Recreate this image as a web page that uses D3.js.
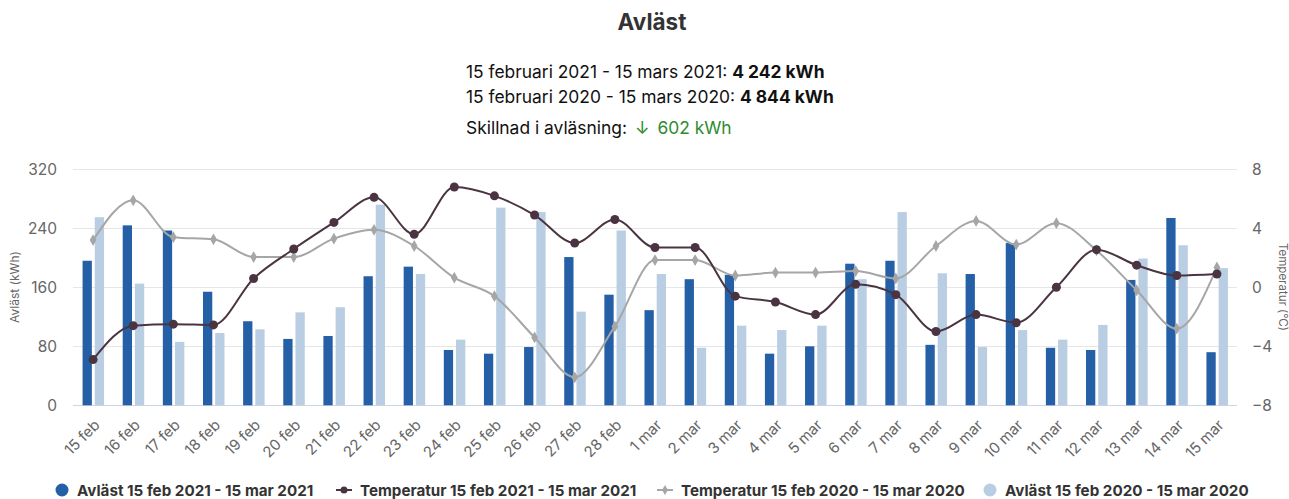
<!DOCTYPE html>
<html>
<head>
<meta charset="utf-8">
<script src="https://cdn.jsdelivr.net/npm/d3@7"></script>
<style>
  body { margin: 0; background: #fff; font-family: Inter, "Noto Sans", sans-serif; }
  svg text { font-family: Inter, "Noto Sans", sans-serif; }
</style>
</head>
<body>
<svg id="chart" width="1289" height="499"></svg>
<script>
var days = ["15 feb","16 feb","17 feb","18 feb","19 feb","20 feb","21 feb","22 feb","23 feb","24 feb",
    "25 feb","26 feb","27 feb","28 feb","1 mar","2 mar","3 mar","4 mar","5 mar","6 mar",
    "7 mar","8 mar","9 mar","10 mar","11 mar","12 mar","13 mar","14 mar","15 mar"];
var read2021 = [196,244,237,154,114,90,94,175,188,75,70,79,201,150,129,171,177,70,80,192,
    196,82,178,220,78,75,170,254,72];
var read2020 = [255,165,86,98,103,126,133,272,178,89,268,262,127,237,178,78,108,102,108,171,
    262,179,79,102,89,109,199,217,186];
var temp2021 = [-4.9,-2.6,-2.5,-2.55,0.6,2.6,4.4,6.1,3.6,6.8,6.2,4.9,3.0,4.6,2.7,2.7,-0.6,-1.0,-1.85,0.2,
    -0.5,-3.0,-1.85,-2.4,0.0,2.55,1.5,0.8,0.9];
var temp2020 = [3.2,5.9,3.4,3.25,2.05,2.05,3.3,3.9,2.8,0.65,-0.6,-3.4,-6.1,-2.65,1.85,1.85,0.8,1.0,1.0,1.1,
    0.6,2.8,4.5,2.9,4.35,2.5,-0.2,-2.8,1.35];
var kwhTicks = [0,80,160,240,320];
var tempTicks = [-8,-4,0,4,8];
var legendNames = ["Avläst 15 feb 2021 - 15 mar 2021","Temperatur 15 feb 2021 - 15 mar 2021",
    "Temperatur 15 feb 2020 - 15 mar 2020","Avläst 15 feb 2020 - 15 mar 2020"];

var col2021 = "#2560a6", col2020 = "#b9cde3", colT21 = "#4a3441", colT20 = "#a6a6a6";

var svg = d3.select("#chart");
var plotL = 73, plotR = 1237, plotT = 169.3, plotB = 405.3;

var x = d3.scaleBand().domain(days).range([plotL, plotR]);
var sub = d3.scaleBand().domain(["a","b"]).range([-10.5, 11]).paddingInner(0.24);
var y = d3.scaleLinear().domain([0, 320]).range([plotB, plotT]);
var yT = d3.scaleLinear().domain([-8, 8]).range([plotB, plotT]);
function cx(d){ return x(d) + x.bandwidth()/2; }

// grid
svg.append("g").selectAll("line").data(kwhTicks.slice(1)).enter().append("line")
    .attr("x1", plotL).attr("x2", plotR)
    .attr("y1", function(d){ return Math.round(y(d)) + 0.5; }).attr("y2", function(d){ return Math.round(y(d)) + 0.5; })
    .attr("stroke", "#e6e6e6").attr("stroke-width", 1);
svg.append("line").attr("x1", plotL).attr("x2", plotR).attr("y1", Math.round(plotB) + 0.5).attr("y2", Math.round(plotB) + 0.5)
    .attr("stroke", "#ccd6eb");

// axes labels
var yAxis = d3.axisLeft(y).tickValues(kwhTicks).tickSize(0).tickPadding(16);
var gy = svg.append("g").attr("transform", "translate(" + plotL + ",0)").call(yAxis);
gy.select(".domain").remove();
gy.selectAll("text").attr("font-size", 15.5).attr("fill", "#666");

var yAxisR = d3.axisRight(yT).tickValues(tempTicks).tickSize(0).tickPadding(15);
var gyr = svg.append("g").attr("transform", "translate(" + plotR + ",0)").call(yAxisR);
gyr.select(".domain").remove();
gyr.selectAll("text").attr("font-size", 15.5).attr("fill", "#666");

var gx = svg.append("g").attr("transform", "translate(0," + plotB + ")")
    .call(d3.axisBottom(x).tickSize(0).tickPadding(0));
gx.select(".domain").remove();
gx.selectAll(".tick text")
    .attr("font-size", 15).attr("fill", "#666")
    .attr("text-anchor", "end")
    .attr("transform", "translate(4,17) rotate(-45)")
    .attr("dy", "0.35em");

svg.append("text").attr("transform", "translate(19,287) rotate(-90)")
    .attr("text-anchor", "middle").attr("font-size", 12).attr("fill", "#666").text("Avläst (kWh)");
svg.append("text").attr("transform", "translate(1279,287) rotate(90)")
    .attr("text-anchor", "middle").attr("font-size", 11.5).attr("fill", "#666").text("Temperatur (°C)");

// bars
var bars = svg.append("g");
bars.selectAll(".b21").data(read2021).enter().append("rect")
    .attr("x", function(d, i){ return cx(days[i]) + sub("a"); })
    .attr("width", sub.bandwidth())
    .attr("y", function(d){ return y(d); })
    .attr("height", function(d){ return plotB - y(d); })
    .attr("fill", col2021);
bars.selectAll(".b20").data(read2020).enter().append("rect")
    .attr("x", function(d, i){ return cx(days[i]) + sub("b"); })
    .attr("width", sub.bandwidth())
    .attr("y", function(d){ return y(d); })
    .attr("height", function(d){ return plotB - y(d); })
    .attr("fill", col2020);

// lines
var line = d3.line()
    .x(function(d, i){ return cx(days[i]); })
    .y(function(d){ return yT(d); })
    .curve(d3.curveMonotoneX);

svg.append("path").datum(temp2020).attr("d", line)
    .attr("fill", "none").attr("stroke", colT20).attr("stroke-width", 2);
svg.append("g").selectAll("path").data(temp2020).enter().append("path")
    .attr("d", d3.symbol().type(d3.symbolDiamond).size(40))
    .attr("transform", function(d, i){ return "translate(" + cx(days[i]) + "," + yT(d) + ")"; })
    .attr("fill", colT20);

svg.append("path").datum(temp2021).attr("d", line)
    .attr("fill", "none").attr("stroke", colT21).attr("stroke-width", 2);
svg.append("g").selectAll("circle").data(temp2021).enter().append("circle")
    .attr("cx", function(d, i){ return cx(days[i]); })
    .attr("cy", function(d){ return yT(d); })
    .attr("r", 4.5)
    .attr("fill", colT21);

// title and summary
svg.append("text").attr("x", 652).attr("y", 30).attr("text-anchor", "middle")
    .attr("font-size", 22.5).attr("font-weight", "bold").attr("fill", "#333").text("Avläst");

var s1 = svg.append("text").attr("x", 466).attr("y", 78).attr("font-size", 17.4).attr("fill", "#111");
s1.append("tspan").text("15 februari 2021 - 15 mars 2021: ");
s1.append("tspan").attr("font-weight", "bold").text("4 242 kWh");
var s2 = svg.append("text").attr("x", 466).attr("y", 103).attr("font-size", 17.4).attr("fill", "#111");
s2.append("tspan").text("15 februari 2020 - 15 mars 2020: ");
s2.append("tspan").attr("font-weight", "bold").text("4 844 kWh");
var s3 = svg.append("text").attr("x", 466).attr("y", 134).attr("font-size", 17.4).attr("fill", "#111");
s3.append("tspan").text("Skillnad i avläsning: ");
s3.append("tspan").attr("fill", "#2e8b2e").attr("dx", 3).text("↓");
s3.append("tspan").attr("fill", "#2e8b2e").attr("dx", 8).text("602 kWh");

// legend
var lx = [62, 344, 665, 990];
var lg = svg.append("g").attr("transform", "translate(0,490)");
lg.append("circle").attr("cx", lx[0]).attr("cy", 0).attr("r", 6.5).attr("fill", col2021);
lg.append("line").attr("x1", lx[1] - 8).attr("x2", lx[1] + 8).attr("stroke", colT21).attr("stroke-width", 2);
lg.append("circle").attr("cx", lx[1]).attr("cy", 0).attr("r", 3.5).attr("fill", colT21);
lg.append("line").attr("x1", lx[2] - 8).attr("x2", lx[2] + 8).attr("stroke", colT20).attr("stroke-width", 2);
lg.append("path").attr("d", d3.symbol().type(d3.symbolDiamond).size(30)).attr("transform", "translate(" + lx[2] + ",0)").attr("fill", colT20);
lg.append("circle").attr("cx", lx[3]).attr("cy", 0).attr("r", 6.5).attr("fill", col2020);
lg.selectAll("text").data(legendNames).enter().append("text")
    .attr("x", function(d, i){ return lx[i] + (i === 0 || i === 3 ? 15 : 16); })
    .attr("y", 5.5)
    .attr("font-size", 15.2).attr("font-weight", "bold").attr("fill", "#333")
    .text(function(d){ return d; });
</script>
</body>
</html>
